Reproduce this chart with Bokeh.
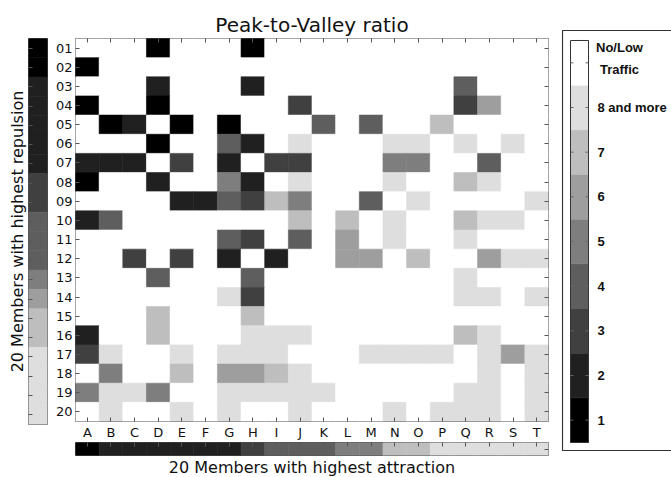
from bokeh.plotting import figure
from bokeh.models import FactorRange, Range1d, CategoricalAxis, Title, ColumnDataSource
from bokeh.layouts import row, column
from bokeh.embed import file_html
from bokeh.resources import INLINE
from bokeh.core.properties import value

# ---------------- data ----------------
col_codes = list("ABCDEFGHIJKLMNOPQRST")
row_codes = ["%02d" % i for i in range(1, 21)]

# level per cell: 0 = No/Low traffic, 1..8 = peak-to-valley class (8 = "8 and more")
cell_levels = [
    [0,0,0,1,0,0,0,1,0,0,0,0,0,0,0,0,0,0,0,0],  # 01
    [1,0,0,0,0,0,0,0,0,0,0,0,0,0,0,0,0,0,0,0],  # 02
    [0,0,0,2,0,0,0,2,0,0,0,0,0,0,0,0,4,0,0,0],  # 03
    [1,0,0,1,0,0,0,0,0,3,0,0,0,0,0,0,3,6,0,0],  # 04
    [0,1,2,0,1,0,1,0,0,0,4,0,4,0,0,7,0,0,0,0],  # 05
    [0,0,0,1,0,0,4,2,0,8,0,0,0,8,8,0,8,0,8,0],  # 06
    [2,2,2,0,3,0,2,0,3,3,0,0,0,5,5,0,0,4,0,0],  # 07
    [1,0,0,2,0,0,5,2,0,8,0,0,0,8,0,0,7,8,0,0],  # 08
    [0,0,0,0,2,2,4,3,7,5,0,0,4,0,8,0,0,0,0,8],  # 09
    [2,4,0,0,0,0,0,0,0,7,0,7,0,8,0,0,7,8,8,0],  # 10
    [0,0,0,0,0,0,4,3,0,4,0,6,0,8,0,0,8,0,0,0],  # 11
    [0,0,3,0,3,0,2,0,2,0,0,6,6,0,7,0,0,6,8,8],  # 12
    [0,0,0,4,0,0,0,4,0,0,0,0,0,0,0,0,8,0,0,0],  # 13
    [0,0,0,0,0,0,8,3,0,0,0,0,0,0,0,0,8,8,0,8],  # 14
    [0,0,0,7,0,0,0,7,0,0,0,0,0,0,0,0,0,0,0,0],  # 15
    [2,0,0,7,0,0,0,8,8,8,0,0,0,0,0,0,7,8,0,0],  # 16
    [3,8,0,0,8,0,8,8,8,0,0,0,8,8,8,8,0,8,6,8],  # 17
    [0,5,0,0,7,0,6,6,7,8,0,0,0,0,0,0,0,8,0,8],  # 18
    [5,8,8,5,0,0,8,8,8,8,8,0,0,0,0,0,8,8,0,8],  # 19
    [0,8,0,0,8,0,8,0,0,8,0,0,0,8,0,8,8,8,0,8],  # 20
]

row_bar_levels = [1,1,2,2,2,2,2,3,3,4,4,4,5,6,7,7,8,8,8,8]
col_bar_levels = [1,2,2,2,2,2,2,3,4,4,4,5,5,7,7,8,8,8,8,8]

level_colors = ["#ffffff", "#000000", "#202020", "#404040", "#5e5e5e",
                "#7e7e7e", "#9e9e9e", "#bebebe", "#dedede"]

legend_levels = [1, 2, 3, 4, 5, 6, 7, 8, 0]          # bottom -> top
legend_labels = ["1", "2", "3", "4", "5", "6", "7", "8 and more", "No/Low\nTraffic"]

FONT = "DejaVu Sans"
TICK = "#555555"


def style_axis(ax, labels=True):
    ax.axis_line_color = None
    ax.major_tick_in = 4
    ax.major_tick_out = 0
    ax.major_tick_line_color = TICK
    ax.minor_tick_line_color = None
    if labels:
        ax.major_label_text_font = FONT
        ax.major_label_text_font_size = "13px"
        ax.major_label_standoff = 3
        ax.major_label_text_color = "#111111"
    else:
        ax.major_label_text_font_size = "1px"
        ax.major_label_text_color = None
        ax.major_label_standoff = 0


# ---------------- main heatmap ----------------
xs, ys, cs = [], [], []
for r, rc in enumerate(row_codes):
    for c, cc in enumerate(col_codes):
        xs.append(cc)
        ys.append(rc)
        cs.append(level_colors[cell_levels[r][c]])
src = ColumnDataSource(dict(col=xs, row=ys, color=cs))

x_rng = FactorRange(factors=col_codes)
y_rng = FactorRange(factors=list(reversed(row_codes)))

p = figure(width=506, height=442, x_range=x_rng, y_range=y_rng,
           toolbar_location=None, output_backend="svg",
           min_border_left=25, min_border_right=8, min_border_top=38, min_border_bottom=18)
p.rect(x="col", y="row", width=1, height=1, source=src,
       fill_color="color", line_color="color", line_width=0.6)
p.grid.visible = False
p.outline_line_color = "#555555"
p.title.text = "Peak-to-Valley ratio"
p.title.align = "center"
p.title.text_font = FONT
p.title.text_font_size = "20px"
p.title.text_font_style = "normal"
p.title.text_color = "#111111"
p.title.standoff = 4
p.title.offset = 7
for ax in p.xaxis + p.yaxis:
    style_axis(ax, True)
top_ax = CategoricalAxis()
style_axis(top_ax, False)
p.add_layout(top_ax, "above")
right_ax = CategoricalAxis()
style_axis(right_ax, False)
p.add_layout(right_ax, "right")

# ---------------- left colour bar (rows) ----------------
lsrc = ColumnDataSource(dict(x=["bar"] * 20, row=row_codes,
                             color=[level_colors[v] for v in row_bar_levels]))
lf = figure(width=50, height=477, x_range=FactorRange(factors=["bar"]), y_range=y_rng,
            toolbar_location=None, output_backend="svg", x_axis_location=None,
            min_border_left=28, min_border_right=3, min_border_top=38, min_border_bottom=53)
lf.rect(x="x", y="row", width=1, height=1, source=lsrc,
        fill_color="color", line_color="color", line_width=0.6)
lf.grid.visible = False
lf.outline_line_color = "#555555"
for ax in lf.yaxis:
    style_axis(ax, False)
lf.add_layout(Title(text="20 Members with highest repulsion", align="center",
                    text_font=FONT, text_font_size="16px", text_font_style="normal",
                    text_color="#111111", standoff=4), "left")

# ---------------- bottom colour bar (columns) ----------------
bsrc = ColumnDataSource(dict(col=col_codes, y=["bar"] * 20,
                             color=[level_colors[v] for v in col_bar_levels]))
bf = figure(width=506, height=35, x_range=x_rng, y_range=FactorRange(factors=["bar"]),
            toolbar_location=None, output_backend="svg",
            x_axis_location="above", y_axis_location="right",
            min_border_left=25, min_border_right=8, min_border_top=0, min_border_bottom=19)
bf.rect(x="col", y="y", width=1, height=1, source=bsrc,
        fill_color="color", line_color="color", line_width=0.6)
bf.grid.visible = False
bf.outline_line_color = "#555555"
for ax in bf.xaxis + bf.yaxis:
    style_axis(ax, False)
bf.add_layout(Title(text="20 Members with highest attraction", align="center",
                    text_font=FONT, text_font_size="16px", text_font_style="normal",
                    text_color="#111111", standoff=1), "below")

# ---------------- legend panel ----------------
lg = figure(width=115, height=477, x_range=Range1d(0, 110), y_range=Range1d(-0.2015, 9.246),
            toolbar_location=None, output_backend="svg",
            x_axis_location=None, y_axis_location=None,
            min_border_left=5, min_border_right=0, min_border_top=29, min_border_bottom=26)
lg.grid.visible = False
lg.outline_line_color = None
ks = list(range(len(legend_levels)))
gsrc = ColumnDataSource(dict(b=ks, t=[k + 1 for k in ks], m=[k + 0.5 for k in ks],
                             color=[level_colors[v] for v in legend_levels],
                             label=legend_labels))
lg.quad(left=1, right=200, bottom=-0.179, top=9.224, fill_color=None,
        line_color="#333333", line_width=1.2)
lg.quad(left=9, right=27, bottom="b", top="t", source=gsrc,
        fill_color="color", line_color="color", line_width=0.6)
lg.quad(left=9, right=27, bottom=0, top=len(ks), fill_color=None, line_color="#333333", line_width=1)
lg.segment(x0=9, x1=12, y0="m", y1="m", source=gsrc, line_color="#666666", line_width=1)
lg.segment(x0=24, x1=27, y0="m", y1="m", source=gsrc, line_color="#666666", line_width=1)
tsrc = ColumnDataSource(dict(m=[k + 0.5 for k in ks[:-1]], label=legend_labels[:-1]))
lg.text(x=36, y="m", text="label", source=tsrc, text_baseline="middle", text_align="left",
        text_font=value("Liberation Sans"), text_font_style="bold", text_font_size="13px",
        text_color="#111111")
lg.text(x=[58], y=[8.6], text=[legend_labels[-1]], text_baseline="middle", text_align="center",
        text_font=value("Liberation Sans"), text_font_style="bold", text_font_size="13px",
        text_color="#111111", text_line_height=1.45)

layout = row(lf, column(p, bf), column(lg))
open("out.html", "w").write(file_html(layout, INLINE))
